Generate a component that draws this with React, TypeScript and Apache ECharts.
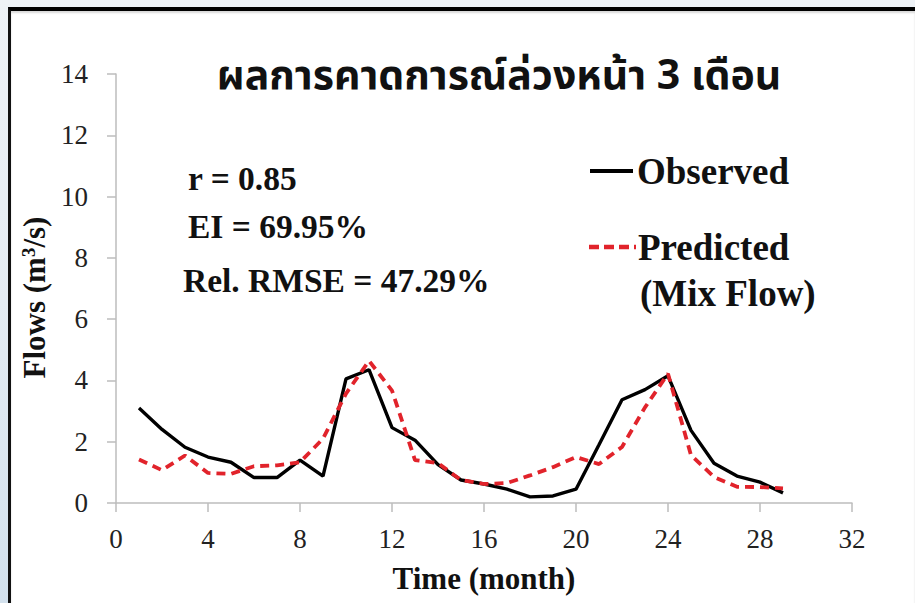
import React, { useEffect, useRef } from "react";
import * as echarts from "echarts";

const months = [1, 2, 3, 4, 5, 6, 7, 8, 9, 10, 11, 12, 13, 14, 15, 16, 17, 18, 19, 20, 21, 22, 23, 24, 25, 26, 27, 28, 29];
const observed = [3.1, 2.4, 1.82, 1.5, 1.33, 0.83, 0.83, 1.4, 0.88, 4.05, 4.35, 2.46, 2.05, 1.25, 0.75, 0.62, 0.45, 0.2, 0.23, 0.45, 1.9, 3.37, 3.7, 4.15, 2.37, 1.3, 0.88, 0.68, 0.33];
const predicted = [1.42, 1.07, 1.55, 0.98, 0.95, 1.2, 1.23, 1.33, 2.1, 3.57, 4.64, 3.67, 1.4, 1.3, 0.75, 0.62, 0.65, 0.9, 1.17, 1.5, 1.27, 1.83, 3.12, 4.22, 1.56, 0.85, 0.53, 0.52, 0.48];
const titleText = "ผลการคาดการณ์ล่วงหน้า 3 เดือน";
const statsLines = ["r = 0.85", "EI = 69.95%", "Rel. RMSE = 47.29%"];
const seriesNames = ["Observed", "Predicted"];
const predictedSub = "(Mix Flow)";
const xAxisName = "Time (month)";

const SERIF = "'Liberation Serif', 'Times New Roman', serif";
const THAI = "'Noto Sans Thai', 'Noto Serif Thai', Loma, Garuda, Norasi, 'Tlwg Typo', sans-serif";
const RED = "#e1232b";

export default function App() {
  const ref = useRef<HTMLDivElement>(null);
  useEffect(() => {
    if (!ref.current) return;
    const chart = echarts.init(ref.current, null, { renderer: "svg" });
    const obsData = months.map((m, i) => [m, observed[i]]);
    const predData = months.map((m, i) => [m, predicted[i]]);
    chart.setOption({
      animation: false,
      backgroundColor: "transparent",
      grid: { left: 116, right: 63, top: 74, bottom: 100, containLabel: false },
      xAxis: {
        type: "value",
        min: 0,
        max: 32,
        interval: 4,
        name: xAxisName,
        nameLocation: "middle",
        nameGap: 60,
        nameTextStyle: { fontFamily: SERIF, fontWeight: "bold", fontSize: 31, color: "#111" },
        axisLine: { show: true, lineStyle: { color: "#bdbdbd", width: 1.5 } },
        axisTick: { show: true, length: 9, inside: false, lineStyle: { color: "#bdbdbd", width: 1.5 } },
        splitLine: { show: false },
        axisLabel: { fontFamily: SERIF, fontSize: 27, color: "#222", margin: 22 },
      },
      yAxis: {
        type: "value",
        min: 0,
        max: 14,
        interval: 2,
        name: "{b|Flows (m}{s|3}{b|/s)}",
        nameLocation: "middle",
        nameGap: 62,
        nameTextStyle: {
          fontFamily: SERIF,
          fontWeight: "bold",
          fontSize: 31,
          color: "#111",
          padding: [0, 18, 0, 0],
          rich: {
            b: { fontFamily: SERIF, fontWeight: "bold", fontSize: 31, color: "#111" },
            s: { fontFamily: SERIF, fontWeight: "bold", fontSize: 19, color: "#111", verticalAlign: "top", padding: [0, 0, 12, 0] },
          },
        },
        axisLine: { show: true, lineStyle: { color: "#bdbdbd", width: 1.5 } },
        axisTick: { show: true, length: 9, inside: false, lineStyle: { color: "#bdbdbd", width: 1.5 } },
        splitLine: { show: false },
        axisLabel: { fontFamily: SERIF, fontSize: 27, color: "#222", margin: 28 },
      },
      series: [
        {
          name: seriesNames[0],
          type: "line",
          data: obsData,
          showSymbol: false,
          symbol: "none",
          lineStyle: { color: "#000", width: 3.4 },
          z: 3,
        },
        {
          name: seriesNames[1],
          type: "line",
          data: predData,
          showSymbol: false,
          symbol: "none",
          lineStyle: { color: RED, width: 3.8, type: [9, 6] },
          z: 4,
        },
      ],
      graphic: [
        {
          type: "text",
          x: 499,
          y: 76,
          style: {
            text: titleText,
            fontFamily: THAI,
            fontWeight: "bold",
            fontSize: 41,
            fill: "#111",
            align: "center",
            verticalAlign: "middle",
          },
        },
        {
          type: "text",
          x: 188,
          y: 178,
          style: { text: statsLines[0], fontFamily: SERIF, fontWeight: "bold", fontSize: 33.5, fill: "#111", verticalAlign: "middle" },
        },
        {
          type: "text",
          x: 188,
          y: 226,
          style: { text: statsLines[1], fontFamily: SERIF, fontWeight: "bold", fontSize: 33.5, fill: "#111", verticalAlign: "middle" },
        },
        {
          type: "text",
          x: 183,
          y: 280,
          style: { text: statsLines[2], fontFamily: SERIF, fontWeight: "bold", fontSize: 33.5, fill: "#111", verticalAlign: "middle" },
        },
        {
          type: "line",
          shape: { x1: 590, y1: 171, x2: 633, y2: 171 },
          style: { stroke: "#000", lineWidth: 4 },
        },
        {
          type: "text",
          x: 637,
          y: 171,
          style: { text: seriesNames[0], fontFamily: SERIF, fontWeight: "bold", fontSize: 37, fill: "#111", verticalAlign: "middle" },
        },
        {
          type: "line",
          shape: { x1: 589, y1: 247, x2: 636, y2: 247 },
          style: { stroke: RED, lineWidth: 4.5, lineDash: [10, 5] },
        },
        {
          type: "text",
          x: 638,
          y: 247,
          style: { text: seriesNames[1], fontFamily: SERIF, fontWeight: "bold", fontSize: 37, fill: "#111", verticalAlign: "middle" },
        },
        {
          type: "text",
          x: 640,
          y: 293,
          style: { text: predictedSub, fontFamily: SERIF, fontWeight: "bold", fontSize: 37, fill: "#111", verticalAlign: "middle" },
        },
      ],
    });
    return () => chart.dispose();
  }, []);

  return (
    <div style={{ position: "absolute", left: 0, top: 0, width: 915, height: 603, overflow: "hidden", background: "linear-gradient(180deg, #eef2f6 0%, #e4ecf3 50%, #d3e1ed 100%)" }}>
      <div style={{ position: "absolute", left: 8, top: 7, right: 0, bottom: 0, background: "#fff", borderTop: "4px solid #000", borderLeft: "3px solid #111", boxShadow: "inset 0 2px 2px rgba(0,0,0,0.15)" }} />
      <div ref={ref} style={{ position: "absolute", left: 0, top: 0, width: 915, height: 603 }} />
    </div>
  );
}
